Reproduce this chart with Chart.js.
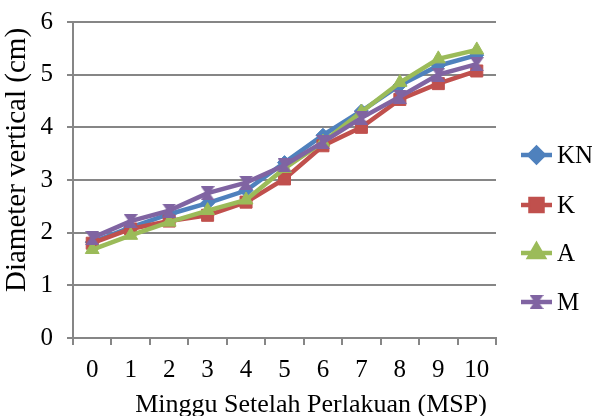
<!DOCTYPE html>
<html>
<head>
<meta charset="utf-8">
<script src="https://cdn.jsdelivr.net/npm/chart.js"></script>
<style>
  html, body { margin: 0; padding: 0; background: #fff; }
  #wrap { width: 592px; height: 416px; }
</style>
</head>
<body>
<div id="wrap"><canvas id="chartDiameter" width="592" height="416"></canvas></div>
<script>
// data
const weeks = ['0', '1', '2', '3', '4', '5', '6', '7', '8', '9', '10'];
const seriesNames = ['KN', 'K', 'A', 'M'];
const valuesKN = [1.82, 2.10, 2.35, 2.56, 2.80, 3.33, 3.85, 4.31, 4.80, 5.17, 5.37];
const valuesK  = [1.80, 2.07, 2.22, 2.33, 2.58, 3.02, 3.65, 4.00, 4.53, 4.83, 5.07];
const valuesA  = [1.68, 1.95, 2.20, 2.42, 2.62, 3.22, 3.72, 4.29, 4.85, 5.30, 5.47];
const valuesM  = [1.90, 2.22, 2.42, 2.75, 2.95, 3.28, 3.72, 4.18, 4.58, 5.00, 5.20];
const yTicks = [0, 1, 2, 3, 4, 5, 6];

const colors = ['#4F81BD', '#C0504D', '#9BBB59', '#8064A2'];
const serif = '"Liberation Serif", "Times New Roman", serif';
const gray = '#868686';

// hourglass marker for series M
function hourglass(color) {
  const c = document.createElement('canvas');
  c.width = 14; c.height = 14;
  const g = c.getContext('2d');
  g.fillStyle = color;
  g.beginPath();
  g.moveTo(0, 0); g.lineTo(14, 0); g.lineTo(9, 7); g.lineTo(14, 14);
  g.lineTo(0, 14); g.lineTo(5, 7); g.closePath();
  g.fill();
  return c;
}

const pointStyles = ['rectRot', 'rect', 'triangle', hourglass(colors[3])];
const pointRadii = [7, 8.5, 8, 7];
const allValues = [valuesKN, valuesK, valuesA, valuesM];

// legend at the right, line + marker like the original
const sideLegend = {
  id: 'sideLegend',
  afterDraw(chart) {
    const ctx = chart.ctx;
    const rows = [155, 205, 253, 302];
    ctx.save();
    chart.data.datasets.forEach((ds, i) => {
      const y = rows[i];
      ctx.strokeStyle = ds.borderColor;
      ctx.lineWidth = 4.5;
      ctx.beginPath();
      ctx.moveTo(521, y);
      ctx.lineTo(552, y);
      ctx.stroke();
      ctx.fillStyle = ds.borderColor;
      Chart.helpers.drawPoint(ctx, {
        pointStyle: ds.pointStyle, radius: ds.pointRadius, rotation: 0, borderWidth: 1
      }, 536.5, y);
      ctx.fill();
      ctx.fillStyle = '#000';
      ctx.font = '25px ' + serif;
      ctx.textBaseline = 'middle';
      ctx.textAlign = 'left';
      ctx.fillText(ds.label, 557, y + 1);
    });
    ctx.restore();
  }
};

// axis titles
const axisTitles = {
  id: 'axisTitles',
  afterDraw(chart) {
    const ctx = chart.ctx;
    ctx.save();
    ctx.fillStyle = '#000';
    ctx.textAlign = 'center';
    ctx.textBaseline = 'middle';
    ctx.font = '26px ' + serif;
    ctx.fillText('Minggu Setelah Perlakuan (MSP)', 311, 405);
    ctx.translate(17, 160);
    ctx.rotate(-Math.PI / 2);
    ctx.font = '29px ' + serif;
    ctx.fillText('Diameter vertical (cm)', 0, 0);
    ctx.restore();
  }
};

const ctx = document.getElementById('chartDiameter');
new Chart(ctx, {
  type: 'line',
  data: {
    labels: weeks,
    datasets: seriesNames.map((name, i) => ({
      label: name,
      data: allValues[i],
      borderColor: colors[i],
      backgroundColor: colors[i],
      borderWidth: 4.5,
      pointStyle: pointStyles[i],
      pointRadius: pointRadii[i],
      pointBorderWidth: 1,
      pointBorderColor: colors[i],
      pointBackgroundColor: colors[i],
      tension: 0,
      order: 3 - i
    }))
  },
  options: {
    responsive: false,
    animation: false,
    layout: { padding: { top: 22, right: 96, left: 0, bottom: 0 } },
    plugins: {
      legend: { display: false },
      tooltip: { enabled: false }
    },
    scales: {
      x: {
        offset: true,
        grid: {
          offset: true,
          drawOnChartArea: false,
          color: gray,
          lineWidth: 2,
          tickLength: 7
        },
        border: { color: gray, width: 2 },
        ticks: {
          color: '#000',
          font: { family: serif, size: 25 },
          padding: 10,
          maxRotation: 0,
          autoSkip: false
        },
        afterFit(scale) { scale.height = 78; scale.paddingLeft = 0; scale.paddingRight = 0; }
      },
      y: {
        min: 0,
        max: 6,
        afterBuildTicks(scale) { scale.ticks = yTicks.map(v => ({ value: v })); },
        grid: { color: gray, lineWidth: 2, tickLength: 6 },
        border: { color: gray, width: 2 },
        ticks: {
          color: '#000',
          font: { family: serif, size: 25 },
          padding: 14
        },
        afterFit(scale) { scale.width = 73; scale.paddingTop = 0; scale.paddingBottom = 0; }
      }
    }
  },
  plugins: [sideLegend, axisTitles]
});
</script>
</body>
</html>
